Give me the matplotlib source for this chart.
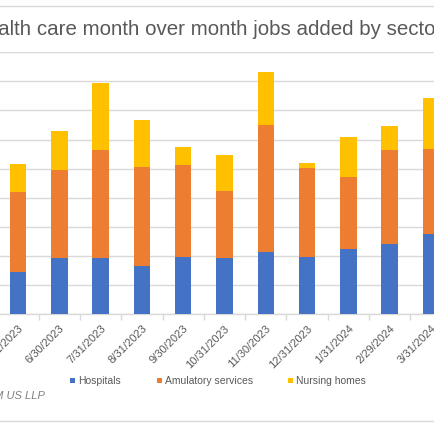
import matplotlib
matplotlib.use("Agg")
import matplotlib.pyplot as plt
from matplotlib.patches import Rectangle
from matplotlib.lines import Line2D
import numpy as np

plt.rcParams['font.family'] = ['Liberation Sans', 'DejaVu Sans']

months = ["5/31/2023", "6/30/2023", "7/31/2023", "8/31/2023", "9/30/2023",
          "10/31/2023", "11/30/2023", "12/31/2023", "1/31/2024", "2/29/2024",
          "3/31/2024"]
hospitals = [14.3, 19.1, 19.4, 16.6, 19.7, 19.1, 21.2, 19.7, 22.3, 24.1, 27.4]
ambulatory = [27.5, 30.4, 37.0, 34.1, 31.6, 23.1, 43.7, 30.4, 24.9, 32.3, 29.3]
nursing = [9.7, 13.3, 23.2, 16.0, 6.0, 12.5, 18.4, 1.8, 13.5, 8.1, 17.5]
series_names = ["Hospitals", "Amulatory services", "Nursing homes"]
colors = ["#4472C4", "#ED7D31", "#FFC000"]
title = "Health care month over month jobs added by sector"
source = "Source: RSM US LLP"

W = H = 435
fig = plt.figure(figsize=(4.35, 4.35), dpi=100)

def fx(px):
    return px / W

def fy(py):
    return 1 - py / H

left_px, right_px = -2.65, 451.6
top_px, bot_px = 53.3, 315
ax = fig.add_axes([fx(left_px), fy(bot_px), fx(right_px - left_px), (bot_px - top_px) / H])

x = np.arange(len(months))
bottom = np.zeros(len(months))
for vals, col, name in zip([hospitals, ambulatory, nursing], colors, series_names):
    ax.bar(x, vals, width=0.4, bottom=bottom, color=col, label=name, zorder=3)
    bottom = bottom + np.array(vals)

ax.set_xlim(-0.5, len(months) - 0.5)
ax.set_ylim(0, 90)
ax.set_yticks(np.arange(0, 91, 10))
ax.yaxis.grid(True, color="#d9d9d9", linewidth=1.0, zorder=0)
ax.tick_params(axis='y', left=False, labelleft=False)
for s in ["top", "right", "left"]:
    ax.spines[s].set_visible(False)
ax.spines["bottom"].set_color("#d9d9d9")
ax.spines["bottom"].set_linewidth(1.0)

ax.set_xticks(x)
ax.set_xticklabels(months, rotation=45, ha='right', rotation_mode='anchor',
                   fontsize=8, color="#595959")
ax.tick_params(axis='x', which='major', length=0, pad=6)
ax.set_xticks(np.arange(-0.5, len(months), 1), minor=True)
ax.tick_params(axis='x', which='minor', length=4, color="#d9d9d9", width=1.0)

fig.text(fx(207), fy(35), title, ha='center', va='baseline', fontsize=14.8,
         color="#595959")

legend_sq = [73, 160, 291]
for name, col, px in zip(series_names, colors, legend_sq):
    fig.add_artist(Rectangle((fx(px - 2.5), fy(383.5)), fx(5), 5 / H,
                             facecolor=col, edgecolor='none'))
    fig.text(fx(px + 5), fy(381), name, ha='left', va='center', fontsize=7.5,
             color="#595959")

fig.text(fx(45), fy(396), source, ha='right', va='center', fontsize=8,
         style='italic', color="#808080")

for py in [7, 422]:
    fig.add_artist(Line2D([0, 1], [fy(py), fy(py)], color="#d9d9d9", linewidth=1.0))

fig.savefig("out.png", dpi=100)
